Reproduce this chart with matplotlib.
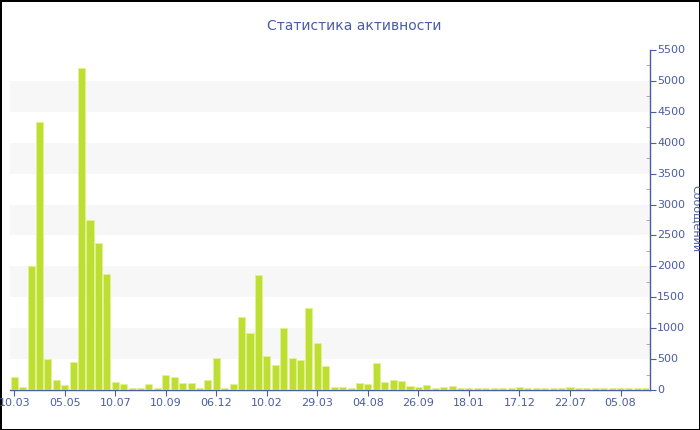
import matplotlib
matplotlib.use("Agg")
import matplotlib.pyplot as plt
from matplotlib.ticker import MultipleLocator

# ---- data ----
values = [215, 53, 2011, 4339, 495, 156, 80, 452, 5204, 2753,
          2371, 1882, 134, 102, 38, 37, 98, 37, 242, 215,
          107, 107, 38, 156, 511, 35, 91, 1183, 914, 1860,
          548, 403, 995, 511, 478, 1333, 758, 387, 48, 48,
          27, 107, 96, 430, 134, 161, 140, 65, 54, 80,
          30, 48, 59, 30, 30, 30, 30, 30, 30, 30,
          48, 30, 30, 30, 30, 35, 48, 30, 30, 30,
          30, 30, 35, 30, 30, 30]
tick_labels = ["10.03", "05.05", "10.07", "10.09", "06.12", "10.02", "29.03",
               "04.08", "26.09", "18.01", "17.12", "22.07", "05.08"]
tick_step = 6
title = "Статистика активности"
y_title = "Сообщений"

text_color = "#4a5ca6"
bar_color = "#bddf33"

plt.rcParams['font.family'] = ['DejaVu Sans']

fig = plt.figure(figsize=(7, 4.3), dpi=100, edgecolor="black", linewidth=2)
ax = fig.add_axes([10/700, 1-390/430, 640/700, 340/430])
ax.set_axisbelow(True)

x = list(range(len(values)))
for lo in range(500, 5500, 1000):
    ax.axhspan(lo, lo+500, color="#f7f7f7", zorder=0, lw=0)
ax.bar(x, values, width=0.84, color=bar_color, edgecolor="#e4f28f",
       linewidth=0.5, zorder=5)

ax.set_xlim(-0.5, len(values)-0.5)
ax.set_ylim(0, 5500)

ax.set_xticks(list(range(0, len(tick_labels)*tick_step, tick_step)))
ax.set_xticklabels(tick_labels)
ax.yaxis.tick_right()
ax.yaxis.set_major_locator(MultipleLocator(500))
ax.yaxis.set_minor_locator(MultipleLocator(250))

for s in ["top", "left"]:
    ax.spines[s].set_visible(False)
for s in ["bottom", "right"]:
    ax.spines[s].set_color(text_color)
    ax.spines[s].set_linewidth(1)
    ax.spines[s].set_zorder(1)

ax.tick_params(axis="x", direction="out", length=4, color=text_color,
               labelcolor=text_color, labelsize=8, pad=2)
ax.tick_params(axis="y", which="major", direction="out", length=4, color=text_color,
               labelcolor=text_color, labelsize=8, pad=1)
ax.tick_params(axis="y", which="minor", direction="in", length=3, color="#a0a0a0")
for lab in ax.get_yticklabels():
    lab.set_verticalalignment("center")

fig.text(354/700, 1-26/430, title, ha="center", va="center",
         fontsize=10, color=text_color)
fig.text(696/700, 1-219/430, y_title, ha="center", va="center",
         rotation=-90, fontsize=8, color=text_color)

fig.savefig("out.png", dpi=100, edgecolor=fig.get_edgecolor())
